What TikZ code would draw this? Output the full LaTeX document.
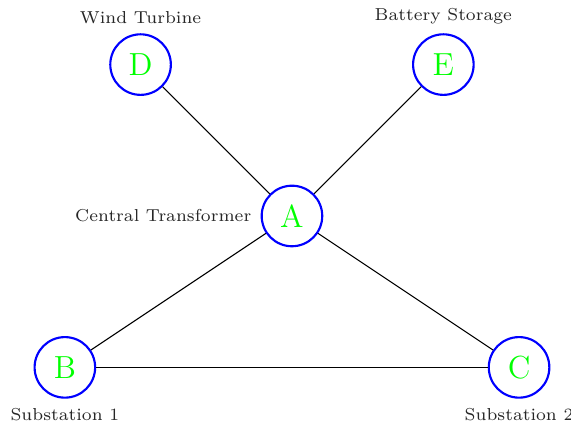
\documentclass[tikz,border=0pt]{standalone}
\usepackage{tikz}
\usetikzlibrary{positioning}

\begin{document}
\begin{tikzpicture}[
  station/.style={circle, draw=blue, thick, text=green, font=\large,
    minimum size=0.8cm, inner sep=0pt},
  tag/.style={font=\fontsize{6.5}{8}\selectfont, text=black!85},
  link/.style={draw=black, thin},
]
  \useasboundingbox (-3.857,-2.774) rectangle (3.686,2.853);

  \node[station, label={[tag]left:Central Transformer}] (A) at (0,0) {A};
  \node[station, label={[tag]below:Substation 1}] (B) at (-3,-2) {B};
  \node[station, label={[tag]below:Substation 2}] (C) at (3,-2) {C};
  \node[station, label={[tag]above:Wind Turbine}] (D) at (-2,2) {D};
  \node[station, label={[tag]above:Battery Storage}] (E) at (2,2) {E};

  \draw[link] (A) -- (B);
  \draw[link] (A) -- (C);
  \draw[link] (B) -- (C);
  \draw[link] (A) -- (D);
  \draw[link] (A) -- (E);
\end{tikzpicture}
\end{document}
